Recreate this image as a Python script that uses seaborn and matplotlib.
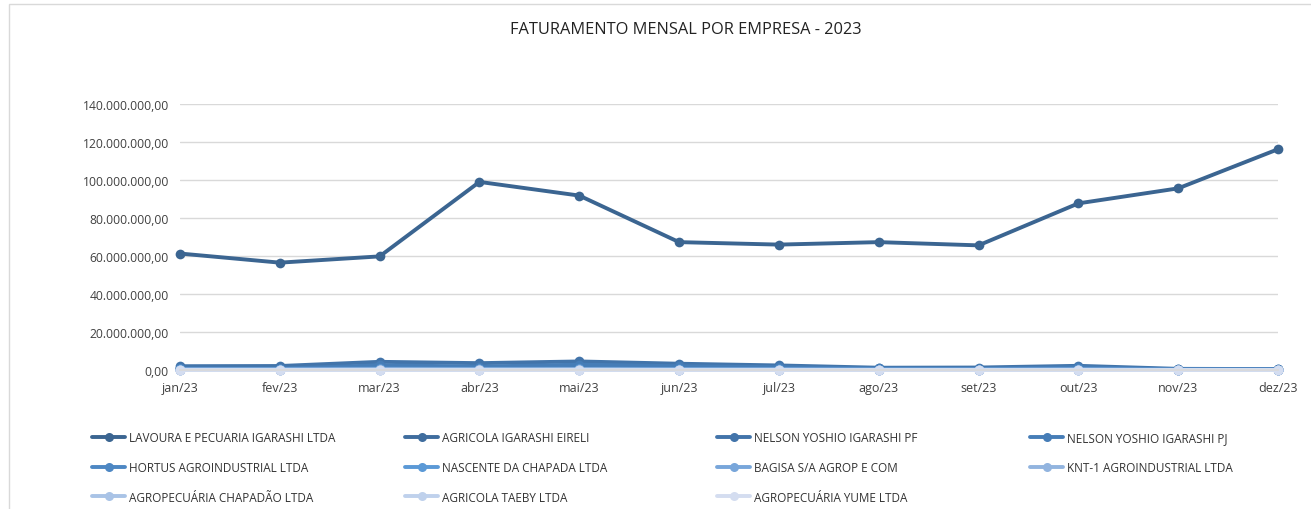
import numpy as np
import pandas as pd
import matplotlib
matplotlib.use("Agg")
import matplotlib.pyplot as plt
from matplotlib.ticker import FuncFormatter
from matplotlib.lines import Line2D
from matplotlib.patches import Rectangle
import seaborn as sns

# months on the category axis
meses = ["jan/23", "fev/23", "mar/23", "abr/23", "mai/23", "jun/23",
         "jul/23", "ago/23", "set/23", "out/23", "nov/23", "dez/23"]

empresas = ["LAVOURA E PECUARIA IGARASHI LTDA", "AGRICOLA IGARASHI EIRELI",
            "NELSON YOSHIO IGARASHI PF", "NELSON YOSHIO IGARASHI PJ",
            "HORTUS AGROINDUSTRIAL LTDA", "NASCENTE DA CHAPADA LTDA",
            "BAGISA S/A AGROP E COM", "KNT-1 AGROINDUSTRIAL LTDA",
            "AGROPECUÁRIA CHAPADÃO LTDA", "AGRICOLA TAEBY LTDA",
            "AGROPECUÁRIA YUME LTDA"]

# monthly revenue (R$)
lavoura   = [61.3e6, 56.5e6, 59.8e6, 99.0e6, 91.8e6, 67.3e6, 66.0e6, 67.3e6, 65.6e6, 87.7e6, 95.6e6, 116.2e6]
agricola  = [1.2e6, 1.0e6, 1.5e6, 1.3e6, 1.6e6, 1.2e6, 0.9e6, 0.5e6, 0.4e6, 1.0e6, 0.2e6, 0.2e6]
nelson_pf = [2.0e6, 2.1e6, 4.3e6, 3.6e6, 4.5e6, 3.3e6, 2.4e6, 1.2e6, 1.3e6, 2.2e6, 0.6e6, 0.5e6]
nelson_pj = [0.8e6, 0.7e6, 2.5e6, 1.8e6, 2.8e6, 2.0e6, 1.5e6, 0.8e6, 0.6e6, 1.5e6, 0.3e6, 0.3e6]
hortus    = [0.5e6, 0.6e6, 0.9e6, 0.7e6, 0.8e6, 0.6e6, 0.5e6, 0.3e6, 0.3e6, 0.4e6, 0.2e6, 0.2e6]
nascente  = [0.3e6, 0.3e6, 0.5e6, 0.4e6, 0.5e6, 0.4e6, 0.3e6, 0.2e6, 0.2e6, 0.3e6, 0.1e6, 0.1e6]
bagisa    = [0.2e6, 0.2e6, 0.3e6, 0.3e6, 0.3e6, 0.2e6, 0.2e6, 0.1e6, 0.1e6, 0.2e6, 0.1e6, 0.1e6]
knt1      = [0.1e6, 0.1e6, 0.2e6, 0.2e6, 0.2e6, 0.1e6, 0.1e6, 0.1e6, 0.1e6, 0.1e6, 0.0, 0.0]
chapadao  = [0.1e6, 0.1e6, 0.1e6, 0.1e6, 0.1e6, 0.1e6, 0.1e6, 0.0, 0.0, 0.1e6, 0.0, 0.0]
taeby     = [0.0, 0.0, 0.1e6, 0.0, 0.1e6, 0.0, 0.0, 0.0, 0.0, 0.0, 0.0, 0.0]
yume      = [0.0] * 12

valores = [lavoura, agricola, nelson_pf, nelson_pj, hortus, nascente,
           bagisa, knt1, chapadao, taeby, yume]

cores = ["#3b6591", "#3f6d9e", "#4274aa", "#467db7", "#4d87c3", "#5b99d6",
         "#78a6da", "#92b4df", "#a9c3e6", "#bfd1ec", "#d4ddf0"]

df = pd.concat([pd.DataFrame({"mes": meses, "valor": v, "empresa": e})
                for e, v in zip(empresas, valores)], ignore_index=True)

sns.set_theme(style="white")
plt.rcParams["font.family"] = ["Open Sans", "DejaVu Sans"]

fig = plt.figure(figsize=(13.11, 5.10), dpi=100)
ax = fig.add_axes([180 / 1311, 1 - 371 / 510, (1278 - 180) / 1311, (371 - 105) / 510])

sns.lineplot(data=df, x="mes", y="valor", hue="empresa", hue_order=empresas,
             palette=cores, marker="o", markersize=7, markeredgewidth=0,
             linewidth=2.8, sort=False, legend=False, ax=ax)
for ln in ax.lines:
    ln.set_clip_on(False)

ax.set_xlim(0, len(meses) - 1)
ax.set_ylim(0, 140e6)
ax.set_yticks(np.arange(0, 140e6 + 1, 20e6))


def fmt_br(v, pos):
    s = f"{v:,.2f}"
    return s.replace(",", "X").replace(".", ",").replace("X", ".")


ax.yaxis.set_major_formatter(FuncFormatter(fmt_br))
ax.grid(axis="y", color="#d9d9d9", linewidth=1)
ax.set_axisbelow(True)
for s in ["top", "right", "left"]:
    ax.spines[s].set_visible(False)
ax.spines["bottom"].set_color("#d9d9d9")
ax.tick_params(axis="both", length=0, labelsize=9, labelcolor="#404040")
ax.tick_params(axis="y", labelsize=8.7, pad=8)
ax.tick_params(axis="x", pad=8)
ax.set_xlabel("")
ax.set_ylabel("")

fig.text(686 / 1311, 1 - 30 / 510, "FATURAMENTO MENSAL POR EMPRESA - 2023",
         ha="center", va="center", fontsize=11.8, color="#222222")

# legend: 4 fixed columns, filled column by column like Excel
col_x = [92, 405, 717, 1030]
for c in range(4):
    idx = list(range(c, len(empresas), 4))
    handles = [Line2D([], [], color=cores[i], lw=2.8, marker="o", markersize=6.5,
                      markeredgewidth=0) for i in idx]
    fig.legend(handles, [empresas[i] for i in idx], loc="upper left",
               bbox_to_anchor=(col_x[c] / 1311, 1 - 432 / 510), frameon=False,
               fontsize=8.5, handlelength=2.8, handletextpad=0.3,
               labelspacing=1.42, borderpad=0, borderaxespad=0,
               labelcolor="#333333")

fig.patches.append(Rectangle((9 / 1311, -0.1), 1.2, 1 - 5 / 510 + 0.1,
                             transform=fig.transFigure, fill=False,
                             edgecolor="#d9d9d9", linewidth=1))

fig.savefig("out.png", dpi=100)
